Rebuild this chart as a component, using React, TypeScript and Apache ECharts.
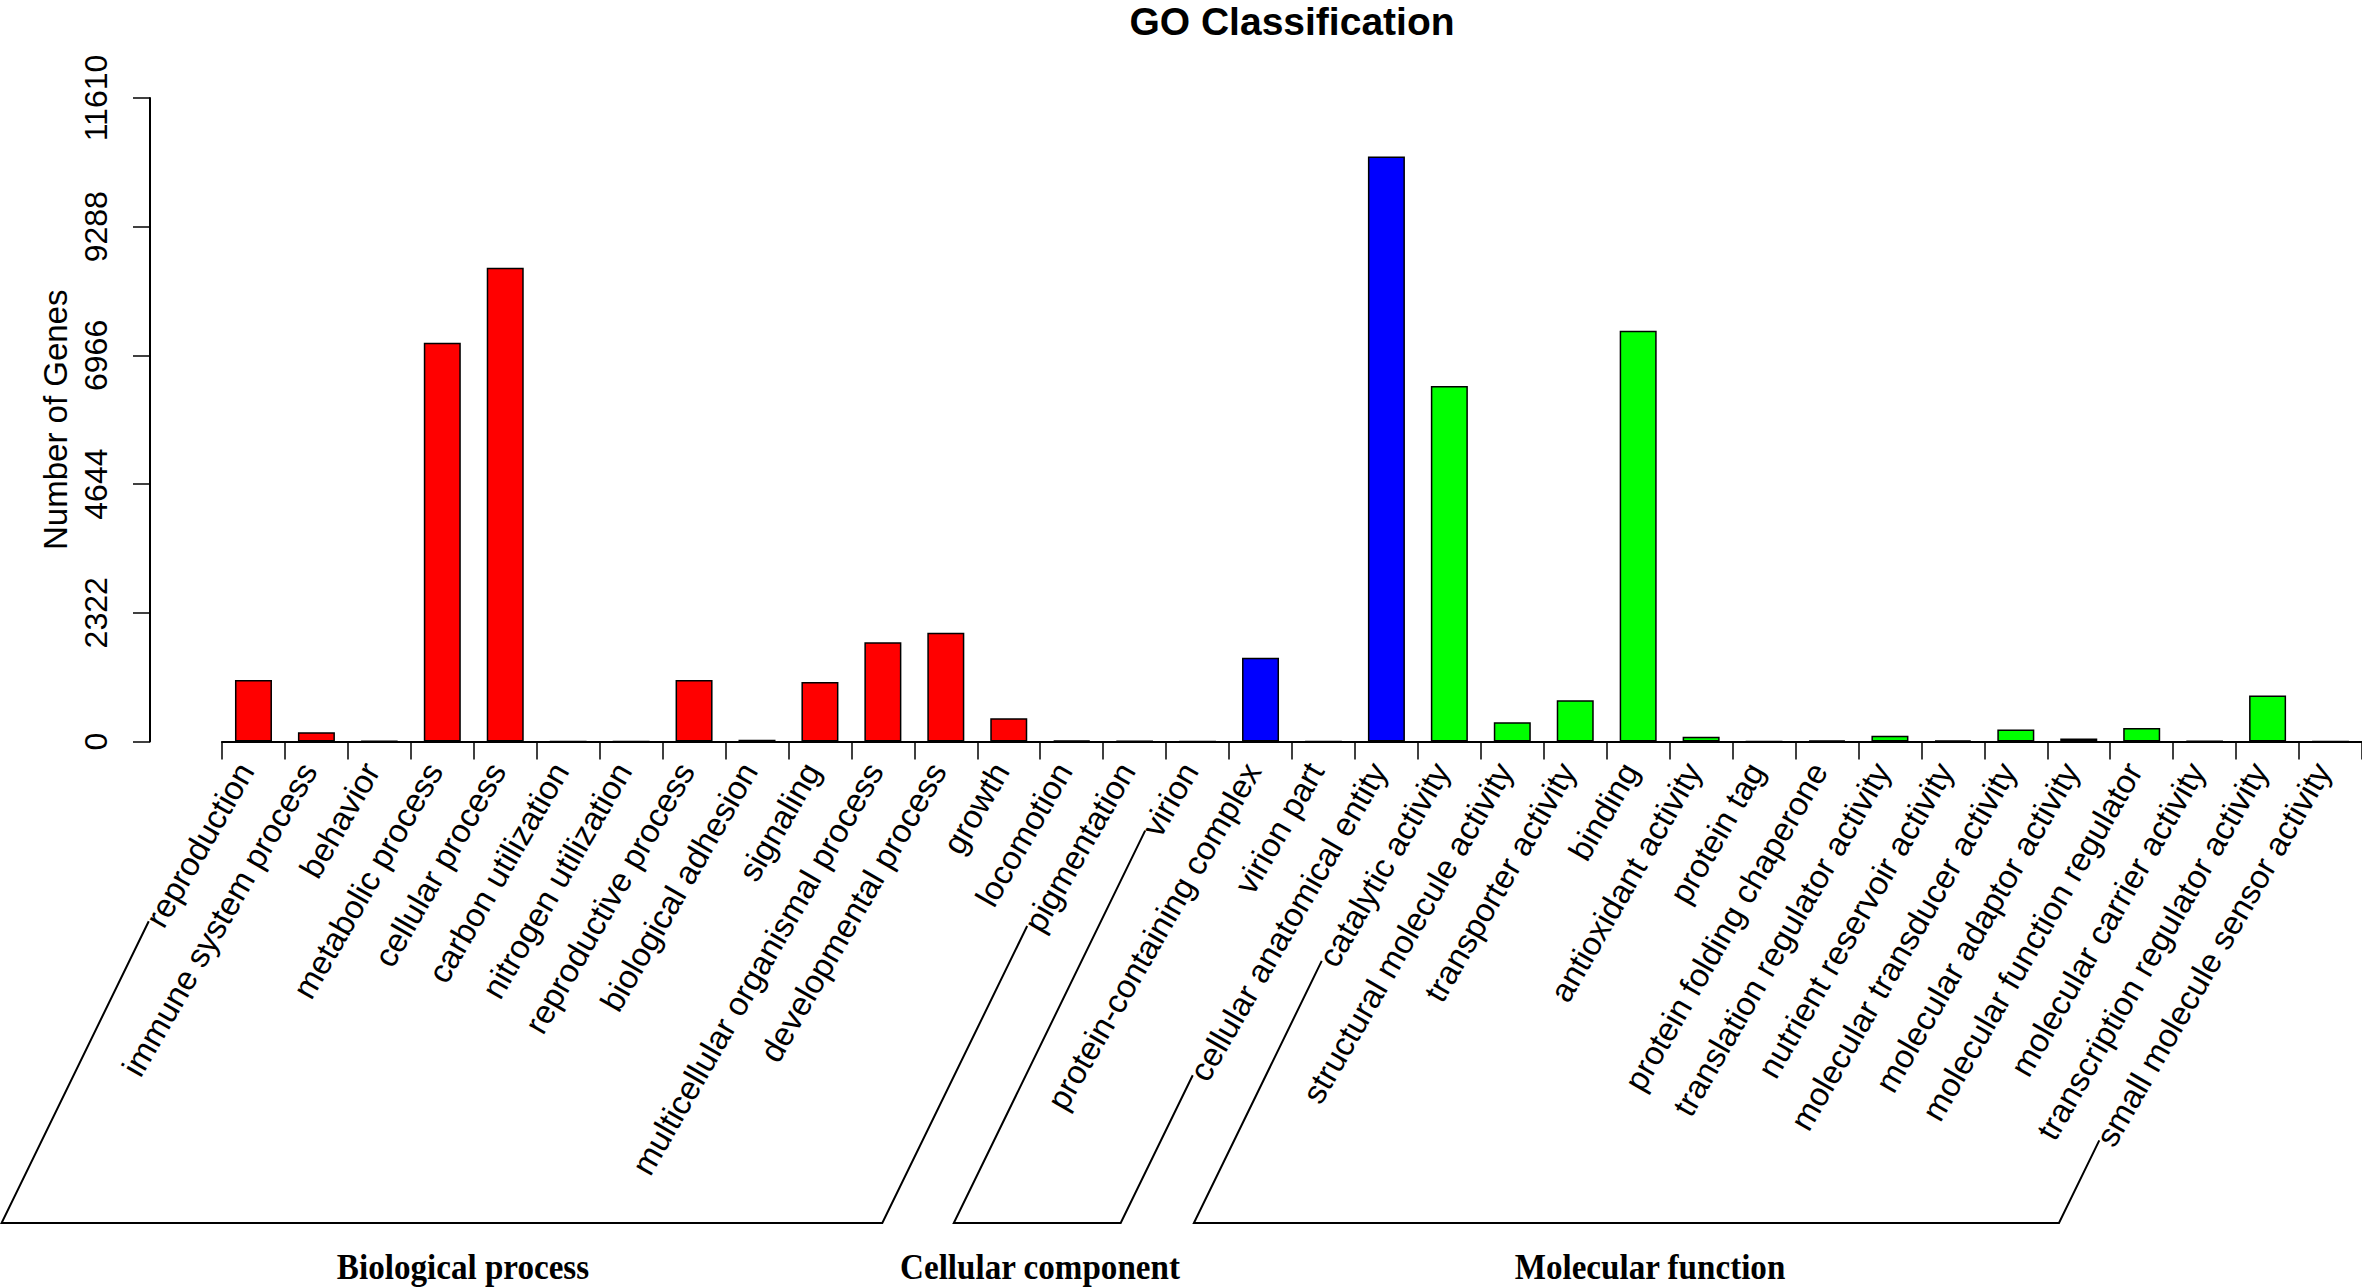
import React, { useEffect, useRef } from "react";
import * as echarts from "echarts";

const categories = [
  "reproduction", "immune system process", "behavior", "metabolic process", "cellular process",
  "carbon utilization", "nitrogen utilization", "reproductive process", "biological adhesion", "signaling",
  "multicellular organismal process", "developmental process", "growth", "locomotion", "pigmentation",
  "virion", "protein-containing complex", "virion part", "cellular anatomical entity",
  "catalytic activity", "structural molecule activity", "transporter activity", "binding",
  "antioxidant activity", "protein tag", "protein folding chaperone", "translation regulator activity",
  "nutrient reservoir activity", "molecular transducer activity", "molecular adaptor activity",
  "molecular function regulator", "molecular carrier activity", "transcription regulator activity",
  "small molecule sensor activity",
];

const values = [
  1109, 166, 8, 7193, 8546, 3, 2, 1109, 30, 1074, 1790, 1964, 419, 15, 6,
  2, 1510, 4, 10554,
  6416, 349, 742, 7411, 87, 3, 20, 105, 22, 218, 52, 244, 6, 829, 3,
];

const groupNames = ["Biological process", "Cellular component", "Molecular function"];
const groupSizes = [15, 4, 15];
const groupColors = ["#FF0000", "#0000FF", "#00FF00"];
const yTicks = [0, 2322, 4644, 6966, 9288, 11610];

const W = 2362;
const H = 1288;
const LABEL_FONT = 33;
const LABEL_MARGIN = 10;
const LABEL_PAD = 16;
const LABEL_ROT = 60;
const BRACKET_Y = 1223;
const BRACKET_ANGLE = 64;
const GROUP_LABEL_X = [463, 1040, 1650];
const GROUP_LABEL_Y = 1267;

export default function App() {
  const ref = useRef<HTMLDivElement>(null);
  useEffect(() => {
    const el = ref.current!;
    const chart = echarts.init(el, null, { renderer: "svg" });

    const colorOf: string[] = [];
    groupSizes.forEach((n, g) => {
      for (let i = 0; i < n; i++) colorOf.push(groupColors[g]);
    });

    const option: any = {
      animation: false,
      backgroundColor: "#fff",
      grid: { left: 222, right: 0, top: 98, bottom: H - 741.5, containLabel: false },
      xAxis: {
        type: "category",
        data: categories,
        axisLine: { show: true, lineStyle: { color: "#000", width: 2 } },
        axisTick: { show: true, length: 18, interval: 0, lineStyle: { color: "#000", width: 1.5 } },
        axisLabel: {
          interval: 0,
          rotate: LABEL_ROT,
          margin: LABEL_MARGIN,
          padding: [0, LABEL_PAD, 0, 0],
          fontSize: LABEL_FONT,
          fontFamily: "Liberation Sans",
          color: "#000",
        },
        splitLine: { show: false },
      },
      yAxis: {
        type: "value",
        min: yTicks[0],
        max: yTicks[yTicks.length - 1],
        interval: yTicks[1] - yTicks[0],
        offset: 72,
        name: "Number of Genes",
        nameLocation: "middle",
        nameRotate: 90,
        nameGap: 78,
        nameTextStyle: { fontSize: 33, fontFamily: "Liberation Sans", color: "#000" },
        axisLine: { show: true, lineStyle: { color: "#000", width: 2 } },
        axisTick: { show: true, length: 17, lineStyle: { color: "#000", width: 1.5 } },
        axisLabel: {
          rotate: 90,
          margin: 38,
          fontSize: 32,
          fontFamily: "Liberation Sans",
          color: "#000",
          formatter: (v: number) => String(v),
        },
        splitLine: { show: false },
      },
      series: [
        {
          type: "bar",
          barWidth: 37,
          data: values.map((v, i) => ({
            value: v,
            itemStyle: { color: colorOf[i], borderColor: "#000", borderWidth: 1.5 },
          })),
        },
      ],
    };
    chart.setOption(option);

    const ctx = document.createElement("canvas").getContext("2d")!;
    ctx.font = `${LABEL_FONT}px "Liberation Sans"`;
    const axisY = chart.convertToPixel({ yAxisIndex: 0 }, 0) as number;
    const rad = (LABEL_ROT * Math.PI) / 180;
    const bRad = (BRACKET_ANGLE * Math.PI) / 180;
    const labelStart = (i: number) => {
      const cx = chart.convertToPixel({ xAxisIndex: 0 }, i) as number;
      const ay = axisY + LABEL_MARGIN;
      const w = ctx.measureText(categories[i]).width + LABEL_PAD;
      return [cx - w * Math.cos(rad) - 5, ay + w * Math.sin(rad) - 3];
    };

    const graphics: any[] = [
      {
        type: "text",
        x: (222 + W) / 2,
        y: 21,
        style: {
          text: "GO Classification",
          font: 'bold 39px "Liberation Sans"',
          fill: "#000",
          textAlign: "center",
          textVerticalAlign: "middle",
        },
      },
    ];
    let start = 0;
    groupSizes.forEach((n, g) => {
      const a = start;
      const b = start + n - 1;
      start += n;
      const tl = labelStart(a);
      const tr = labelStart(b);
      const bl = [tl[0] - (BRACKET_Y - tl[1]) / Math.tan(bRad), BRACKET_Y];
      const br = [tr[0] - (BRACKET_Y - tr[1]) / Math.tan(bRad), BRACKET_Y];
      graphics.push({
        type: "polyline",
        shape: { points: [tl, bl, br, tr] },
        style: { stroke: "#000", lineWidth: 2, fill: null },
      });
      graphics.push({
        type: "text",
        x: GROUP_LABEL_X[g],
        y: GROUP_LABEL_Y,
        scaleX: 0.92,
        style: {
          text: groupNames[g],
          font: 'bold 36px "Liberation Serif"',
          fill: "#000",
          textAlign: "center",
          textVerticalAlign: "middle",
        },
      });
    });
    chart.setOption({ graphic: graphics });

    return () => chart.dispose();
  }, []);
  return (
    <div
      ref={ref}
      style={{ position: "fixed", left: 0, top: 0, width: W, height: H, background: "#fff" }}
    />
  );
}
